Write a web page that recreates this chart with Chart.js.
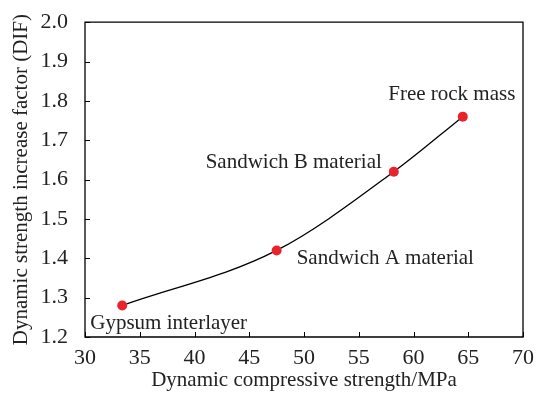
<!DOCTYPE html>
<html lang="en">
<head>
    <meta charset="UTF-8">
    <title>DIF vs dynamic compressive strength</title>
    <style>
        html, body { margin: 0; padding: 0; background: #fff; }
        #wrap { width: 537px; height: 394px; }
    </style>
</head>
<body>
    <div id="wrap"><canvas id="difChart" width="537" height="394"></canvas></div>

    <script src="https://cdn.jsdelivr.net/npm/chart.js"></script>
    <script>
        // measured samples
        const materials = ['Gypsum interlayer', 'Sandwich A material', 'Sandwich B material', 'Free rock mass'];
        const strength = [33.4, 47.5, 58.2, 64.5];
        const dif = [1.28, 1.42, 1.62, 1.76];
        const xTicks = [30, 35, 40, 45, 50, 55, 60, 65, 70];
        const yTicks = [1.2, 1.3, 1.4, 1.5, 1.6, 1.7, 1.8, 1.9, 2.0];

        const serif = '"Liberation Serif", "Times New Roman", serif';

        // where each point name sits relative to its marker
        const labelPlacement = [
            { dx: -32, dy: 18, align: 'left' },
            { dx: 20, dy: 8, align: 'left' },
            { dx: -12, dy: -9, align: 'right' },
            { dx: -11, dy: -22, align: 'center' }
        ];

        // inward tick marks plus the top/right frame lines
        const frame = {
            id: 'frame',
            afterDraw(chart) {
                const ctx = chart.ctx;
                const a = chart.chartArea;
                const xs = chart.scales.x, ys = chart.scales.y;
                ctx.save();
                ctx.strokeStyle = '#000';
                ctx.lineWidth = 1.3;
                ctx.beginPath();
                ctx.moveTo(a.left, a.top);
                ctx.lineTo(a.right, a.top);
                ctx.lineTo(a.right, a.bottom);
                ctx.lineTo(a.left, a.bottom);
                ctx.closePath();
                ctx.stroke();
                ctx.lineWidth = 1;
                ctx.beginPath();
                xTicks.forEach(v => {
                    const px = Math.round(xs.getPixelForValue(v)) + 0.5;
                    ctx.moveTo(px, a.bottom);
                    ctx.lineTo(px, a.bottom - 5);
                });
                yTicks.forEach(v => {
                    const py = Math.round(ys.getPixelForValue(v)) + 0.5;
                    ctx.moveTo(a.left, py);
                    ctx.lineTo(a.left + 5, py);
                });
                ctx.stroke();
                ctx.restore();
            }
        };

        const pointNames = {
            id: 'pointNames',
            afterDatasetsDraw(chart) {
                const ctx = chart.ctx;
                const pts = chart.getDatasetMeta(0).data;
                ctx.save();
                ctx.font = '21px ' + serif;
                ctx.fillStyle = '#222';
                ctx.textBaseline = 'middle';
                pts.forEach((p, i) => {
                    const lp = labelPlacement[i];
                    ctx.textAlign = lp.align;
                    ctx.fillText(materials[i], p.x + lp.dx, p.y + lp.dy);
                });
                ctx.restore();
            }
        };

        new Chart(document.getElementById('difChart'), {
            type: 'scatter',
            data: {
                datasets: [{
                    data: strength.map((x, i) => ({ x: x, y: dif[i] })),
                    showLine: true,
                    cubicInterpolationMode: 'monotone',
                    borderColor: '#000',
                    borderWidth: 1.3,
                    pointRadius: 5,
                    pointBackgroundColor: '#e8232b',
                    pointBorderWidth: 0
                }]
            },
            options: {
                responsive: false,
                animation: false,
                layout: { padding: { left: 0, right: 14, top: 19, bottom: 0 } },
                plugins: { legend: { display: false }, tooltip: { enabled: false } },
                scales: {
                    x: {
                        type: 'linear',
                        min: 30, max: 70,
                        afterBuildTicks: s => { s.ticks = xTicks.map(v => ({ value: v })); },
                        afterFit: s => { s.height = 57; },
                        grid: { display: false },
                        border: { display: false },
                        ticks: { color: '#222', padding: 0, font: { family: serif, size: 22 } },
                        title: {
                            display: true,
                            text: 'Dynamic compressive strength/MPa',
                            color: '#222',
                            font: { family: serif, size: 21 },
                            padding: { top: 0, bottom: 1 }
                        }
                    },
                    y: {
                        type: 'linear',
                        min: 1.2, max: 2.0,
                        afterBuildTicks: s => { s.ticks = yTicks.map(v => ({ value: v })); },
                        afterFit: s => { s.width = 85; },
                        grid: { display: false },
                        border: { display: false },
                        ticks: {
                            color: '#222', padding: 9,
                            font: { family: serif, size: 22 },
                            callback: v => v.toFixed(1)
                        },
                        title: {
                            display: true,
                            text: 'Dynamic strength increase factor (DIF)',
                            color: '#222',
                            font: { family: serif, size: 21 },
                            padding: { top: 9, bottom: 0 }
                        }
                    }
                }
            },
            plugins: [frame, pointNames]
        });
    </script>
</body>
</html>
